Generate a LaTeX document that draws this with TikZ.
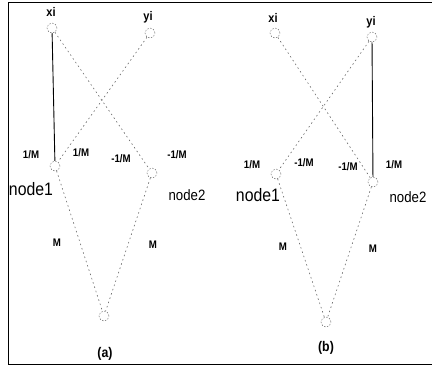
\documentclass[tikz,border=0pt]{standalone}
\usepackage{fontspec}
\setmainfont{Liberation Sans}
\newfontfamily\condf[FakeStretch=0.88]{Liberation Sans}
\begin{document}
\begin{tikzpicture}[x=1pt,y=-1pt,
  nd/.style={circle,draw=black!55,dashed,dash pattern=on 1.5pt off 1.5pt,minimum size=10pt,inner sep=0pt,line width=0.5pt},
  sl/.style={font=\condf\bfseries\fontsize{11}{11}\selectfont,inner sep=0pt},
  vl/.style={font=\condf\bfseries\fontsize{12.5}{12.5}\selectfont,inner sep=0pt},
  big/.style={font=\condf\fontsize{18}{18}\selectfont,inner sep=0pt},
  mid/.style={font=\condf\fontsize{15}{15}\selectfont,inner sep=0pt},
  captext/.style={font=\condf\bfseries\fontsize{14}{14}\selectfont,inner sep=0pt},
  solidl/.style={draw=black,line width=0.9pt},
  dl/.style={draw=black!60,line width=0.6pt,dash pattern=on 1.5pt off 3pt}]
\useasboundingbox (0,0) rectangle (432,368);
% frame
\draw[line width=1pt] (432,2) -- (8,2) -- (8,364) -- (432,364);
% ---------- panel (a)
\node[nd] (axi) at (52,28) {};
\node[nd] (ayi) at (150,33) {};
\node[nd] (an1) at (55,166) {};
\node[nd] (an2) at (152,173) {};
\node[nd] (ab) at (104,316) {};
\node[vl] (laxi) at (51,12) {xi};
\node[vl] (layi) at (148,17) {yi};
\draw[solidl] (axi) -- (an1);
\draw[dl] (axi) -- (an2);
\draw[dl] (ayi) -- (an1);
\draw[dl] (an1) -- (ab);
\draw[dl] (an2) -- (ab);
\node[sl] (aw1) at (31,155) {1/M};
\node[sl] (aw2) at (81,153) {1/M};
\node[sl] (aw3) at (121,159) {-1/M};
\node[sl] (aw4) at (177,155) {-1/M};
\node[big] (lan1) at (31,189) {node1};
\node[mid] (lan2) at (187,195) {node2};
\node[sl] (am1) at (57,243) {M};
\node[sl] (am2) at (153,245) {M};
\node[captext] (capa) at (105,354) {(a)};
% ---------- panel (b)
\node[nd] (bxi) at (275,33) {};
\node[nd] (byi) at (372,37) {};
\node[nd] (bn1) at (276,174) {};
\node[nd] (bn2) at (373,182) {};
\node[nd] (bb) at (326,322) {};
\node[vl] (lbxi) at (273,18) {xi};
\node[vl] (lbyi) at (371,22) {yi};
\draw[solidl] (byi) -- (bn2);
\draw[dl] (bxi) -- (bn2);
\draw[dl] (byi) -- (bn1);
\draw[dl] (bn1) -- (bb);
\draw[dl] (bn2) -- (bb);
\node[sl] (bw1) at (252,165) {1/M};
\node[sl] (bw2) at (304,163) {-1/M};
\node[sl] (bw3) at (348,167) {-1/M};
\node[sl] (bw4) at (394,165) {1/M};
\node[big] (lbn1) at (258,195) {node1};
\node[mid] (lbn2) at (408,197) {node2};
\node[sl] (bm1) at (283,247) {M};
\node[sl] (bm2) at (373,249) {M};
\node[captext] (capb) at (326,348) {(b)};
\end{tikzpicture}
\end{document}
